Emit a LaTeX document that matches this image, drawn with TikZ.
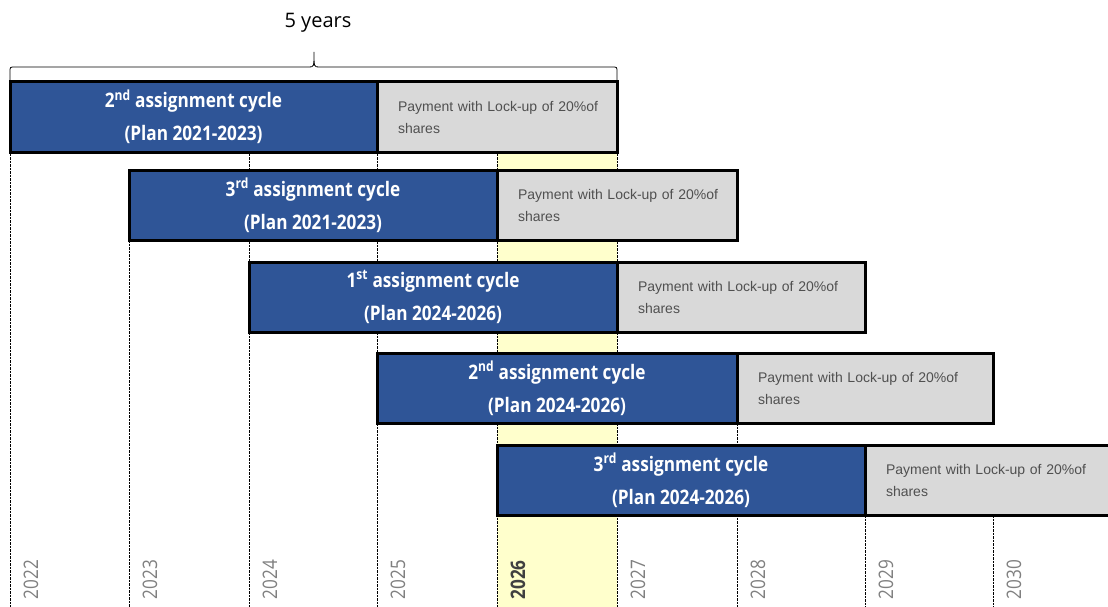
\documentclass[tikz,border=0pt]{standalone}
\usepackage{fontspec}
\setmainfont{Open Sans}
\newfontfamily\condfont[FakeStretch=0.86]{Open Sans}
\newfontfamily\payfont{Liberation Sans}
\usetikzlibrary{positioning}
\definecolor{cycleblue}{RGB}{47,85,151}
\definecolor{paygrey}{RGB}{217,217,217}
\definecolor{paytext}{RGB}{80,80,80}
\definecolor{yeargrey}{RGB}{128,128,128}
\definecolor{hiyellow}{RGB}{255,255,204}

\begin{document}
\begin{tikzpicture}[x=1pt, y=-1pt,
  cyclebox/.style={draw=black, line width=3pt, fill=cycleblue, text=white, outer sep=0pt, inner sep=0pt, anchor=north west, minimum height=70pt, align=center, font=\condfont\bfseries\fontsize{20}{33}\selectfont},
  paybox/.style={draw=black, line width=3pt, fill=paygrey, text=paytext, outer sep=0pt, inner xsep=21pt, inner ysep=0pt, anchor=north west, minimum height=70pt, align=left, font=\payfont\fontsize{14}{22}\selectfont},
  year/.style={rotate=90, anchor=base west, text=yeargrey, font=\condfont\fontsize{20}{24}\selectfont},
  yearline/.style={line width=1pt, dash pattern=on 2.5pt off 1pt}]

  \useasboundingbox (0,0) rectangle (1108,607);

  \fill[hiyellow] (497,150) rectangle (617,607);
  \foreach \x/\y in {10/150, 129/240, 249/150, 377/150, 497/150, 617/150, 737/423, 865/515, 993/515}
    \draw[yearline] (\x,\y) -- (\x,607);

  \node[cyclebox, minimum width=367pt] (c1) at (10,82) {2\textsuperscript{nd} assignment cycle\\(Plan 2021-2023)};
  \node[paybox, minimum width=240pt, text width=198pt] (p1) at (c1.north east) {\mbox{Payment with Lock-up of 20\%of}\\shares};

  \node[cyclebox, minimum width=368pt] (c2) at (129,170) {3\textsuperscript{rd} assignment cycle\\(Plan 2021-2023)};
  \node[paybox, minimum width=240pt, text width=198pt] (p2) at (c2.north east) {\mbox{Payment with Lock-up of 20\%of}\\shares};

  \node[cyclebox, minimum width=368pt] (c3) at (249,262) {1\textsuperscript{st} assignment cycle\\(Plan 2024-2026)};
  \node[paybox, minimum width=248pt, text width=206pt] (p3) at (c3.north east) {\mbox{Payment with Lock-up of 20\%of}\\shares};

  \node[cyclebox, minimum width=360pt] (c4) at (377,353) {2\textsuperscript{nd} assignment cycle\\(Plan 2024-2026)};
  \node[paybox, minimum width=256pt, text width=214pt] (p4) at (c4.north east) {\mbox{Payment with Lock-up of 20\%of}\\shares};

  \node[cyclebox, minimum width=368pt] (c5) at (497,445) {3\textsuperscript{rd} assignment cycle\\(Plan 2024-2026)};
  \node[paybox, minimum width=250pt, text width=208pt] (p5) at (c5.north east) {\mbox{Payment with Lock-up of 20\%of}\\shares};

  \foreach \x/\yr in {10/2022, 129/2023, 249/2024, 377/2025, 617/2027, 737/2028, 865/2029, 993/2030}
    \node[year] (y\yr) at (\x+28,603) {\yr};
  \node[year, font=\condfont\bfseries\fontsize{20}{24}\selectfont, text=darkgray] (y2026) at (525,603) {2026};

  \draw[line width=0.8pt] (10,82) -- (10,72) .. controls (10,67) .. (15,67) -- (309,67) .. controls (314,67) .. (314,52)
    .. controls (314,67) .. (319,67) -- (612,67) .. controls (617,67) .. (617,72) -- (617,82);
  \node[font=\fontsize{20}{24}\selectfont] (span) at (318,23) {5 years};
\end{tikzpicture}
\end{document}
